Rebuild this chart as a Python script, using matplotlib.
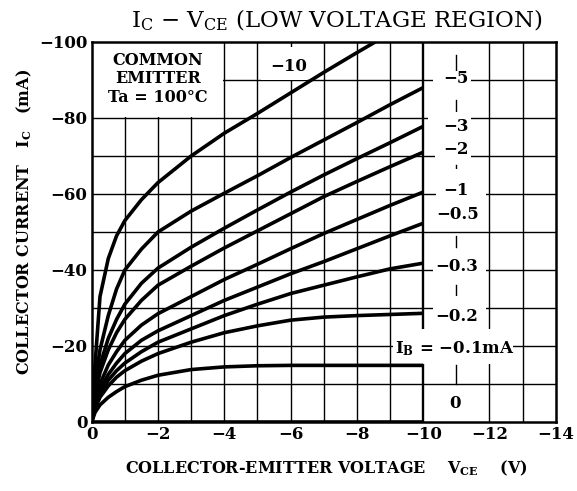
import matplotlib
matplotlib.use('Agg')
import matplotlib.pyplot as plt
from matplotlib.patches import Rectangle
import numpy as np

plt.rcParams['font.family'] = ['DejaVu Serif']
plt.rcParams['mathtext.fontset'] = 'dejavuserif'

# ---------------- data ----------------
vce = [0, -0.1, -0.25, -0.5, -0.75, -1, -1.5, -2, -3, -4, -5, -6, -7, -8, -9, -10]

ib_labels = ["−10", "−5", "−3", "−2", "−1", "−0.5", "−0.3", "−0.2", "−0.1", "0"]

ic_m10  = [0, -15, -33, -43, -49, -53, -58.5, -63, -70, -76, -81.2, -86.6, -92.0, -97.2, -102.3, np.nan]
ic_m5   = [0, -10, -19, -28, -35, -40, -45.5, -50, -55.5, -60.2, -64.8, -69.6, -74.2, -78.8, -83.5, -88]
ic_m3   = [0, -8, -15, -22, -27, -31, -36.5, -40.5, -46, -51, -55.8, -60.5, -65, -69.3, -73.5, -77.8]
ic_m2   = [0, -7, -13, -19, -23.5, -27, -32, -36, -41, -45.8, -50.3, -54.8, -59.3, -63.3, -67.2, -71]
ic_m1   = [0, -5.5, -10, -15, -18.5, -21.5, -25.5, -28.5, -33, -37.5, -41.5, -45.6, -49.6, -53.3, -57, -60.5]
ic_m05  = [0, -4.5, -8.5, -12.5, -15.5, -18, -21.5, -24, -28, -32, -35.5, -39, -42.2, -45.6, -49, -52.3]
ic_m03  = [0, -4, -7.5, -11, -13.5, -15.5, -18.5, -21, -24.5, -28, -31, -33.8, -36, -38.2, -40.3, -41.8]
ic_m02  = [0, -3.5, -6.5, -9.5, -11.8, -13.5, -16, -18, -21, -23.5, -25.3, -26.8, -27.6, -28, -28.3, -28.6]
ic_m01  = [0, -2.5, -4.5, -6.5, -8, -9.3, -11, -12.3, -13.8, -14.5, -14.8, -14.9, -14.9, -14.9, -14.9, -14.9]
ic_0    = [0, 0, 0, 0, 0, 0, 0, 0, 0, 0, 0, 0, 0, 0, 0, 0]

series = [ic_m10, ic_m5, ic_m3, ic_m2, ic_m1, ic_m05, ic_m03, ic_m02, ic_m01, ic_0]

xticks = [0, -2, -4, -6, -8, -10, -12, -14]
xticklabels = ["0", "−2", "−4", "−6", "−8", "−10", "−12", "−14"]
yticks = [0, -20, -40, -60, -80, -100]
yticklabels = ["0", "−20", "−40", "−60", "−80", "−100"]

# ---------------- figure ----------------
W, H = 577, 491
fig = plt.figure(figsize=(W / 100, H / 100), dpi=100)
ax = fig.add_axes([91.7 / W, 69 / H, (555.8 - 91.7) / W, 380 / H])
ax.set_xlim(0, -14)
ax.set_ylim(0, -100)

# grid
for v in range(-1, -14, -1):
    if v == -11:
        continue
    ax.axvline(v, color='black', lw=1.7 if v == -10 else 1.0, zorder=1)
for i in range(-10, -100, -10):
    ax.axhline(i, color='black', lw=1.0, zorder=1)
for a, b in [(-96.5, -92.6), (-84.7, -81.7), (-67.6, -66.8), (-49, -46), (-36, -33.4), (-15, -10)]:
    ax.plot([-11, -11], [a, b], color='black', lw=1.0, zorder=1)

def wbox(x0, x1, y0, y1):
    ax.add_patch(Rectangle((x0, y0), x1 - x0, y1 - y0, facecolor='white',
                           edgecolor='none', zorder=2))

# white areas behind text
wbox(-0.05, -3.95, -99.8, -80.3)      # common emitter box
wbox(-5.1, -6.5, -98.6, -89.9)        # -10 label
wbox(-10.3, -11.45, -92.5, -85.5)     # -5
wbox(-10.15, -11.45, -81.5, -73.8)    # -3
wbox(-10.35, -11.45, -73.8, -68)      # -2
wbox(-10.4, -11.9, -66.5, -56.5)      # -1
wbox(-10.25, -11.9, -56.5, -51.5)     # -0.5
wbox(-10.3, -11.9, -45.5, -36.3)      # -0.3
wbox(-10.3, -11.9, -33.2, -24.6)      # -0.2
wbox(-9.1, -12.7, -24.6, -15.3)       # IB label

# curves
for s in series:
    ax.plot(vce, s, color='black', lw=2.6, solid_capstyle='butt',
            solid_joinstyle='round', zorder=3)

# curve labels
lab = dict(fontsize=12, fontweight='bold', ha='center', va='center', zorder=4)
ax.text(-5.95, -93.5, ib_labels[0], **lab)
ax.text(-11.0, -90.4, ib_labels[1], **lab)
ax.text(-11.0, -77.7, ib_labels[2], **lab)
ax.text(-11.0, -71.6, ib_labels[3], **lab)
ax.text(-11.0, -61.0, ib_labels[4], **lab)
ax.text(-11.05, -54.5, ib_labels[5], **lab)
ax.text(-11.0, -40.9, ib_labels[6], **lab)
ax.text(-11.0, -27.7, ib_labels[7], **lab)
ax.text(-10.95, -19.4, r"$\mathbf{I_B}$ = " + ib_labels[8] + "mA", **lab)
ax.text(-10.95, -4.9, ib_labels[9], **lab)

ax.text(-2.0, -90.3, "COMMON\nEMITTER\nTa = 100°C", fontsize=11.5, fontweight='bold',
        ha='center', va='center', linespacing=1.12, zorder=4)

# ticks
ax.set_xticks(xticks)
ax.set_xticklabels(xticklabels, fontsize=12, fontweight='bold')
ax.set_yticks(yticks)
ax.set_yticklabels(yticklabels, fontsize=12, fontweight='bold')
ax.tick_params(length=0, pad=3)
for sp in ax.spines.values():
    sp.set_linewidth(1.8)
    sp.set_zorder(5)

# titles
fig.text(337 / W, 1 - 20 / H, r"$\mathregular{I_C}$ − $\mathregular{V_{CE}}$ (LOW VOLTAGE REGION)",
         ha='center', va='center', fontsize=16.5)
fig.text(24 / W, 1 - 222 / H, r"COLLECTOR CURRENT   $\mathbf{I_C}$   (mA)", rotation=90,
         ha='center', va='center', fontsize=11.5, fontweight='bold')
fig.text(326 / W, 1 - 468 / H, r"COLLECTOR-EMITTER VOLTAGE    $\mathbf{V_{CE}}$    (V)",
         ha='center', va='center', fontsize=11.5, fontweight='bold')

fig.savefig('out.png', dpi=100)
